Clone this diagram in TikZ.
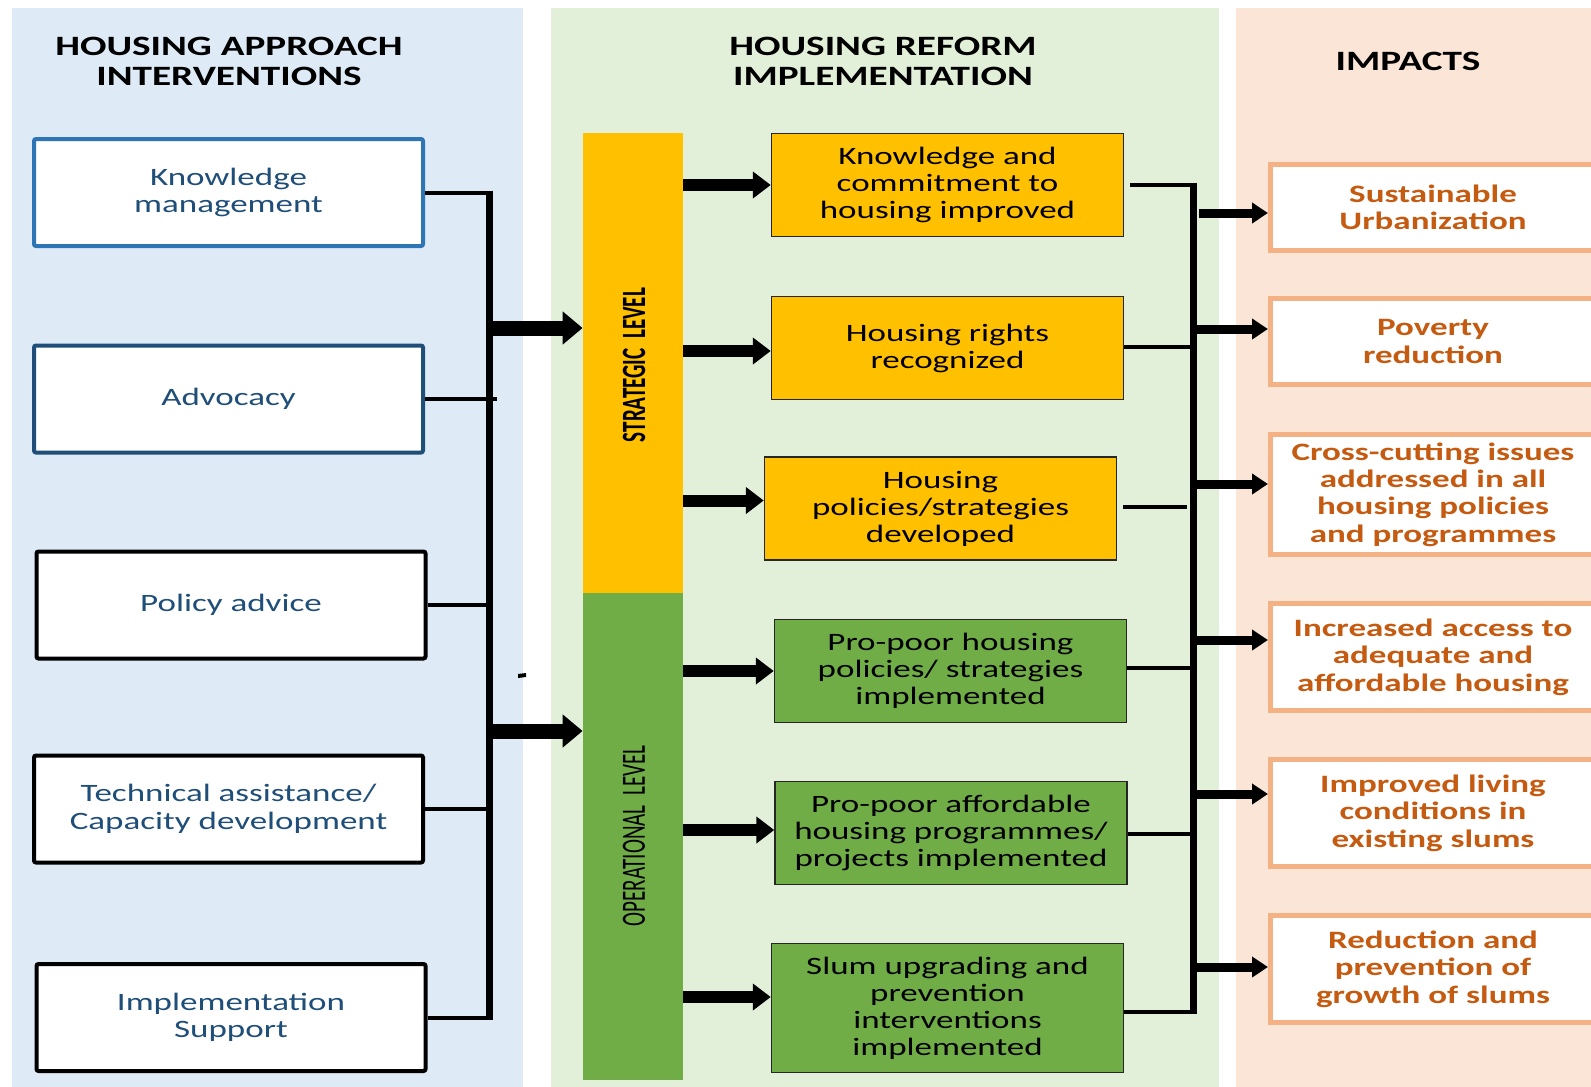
\documentclass[tikz,border=0pt]{standalone}
\usepackage{fontspec}
\setmainfont{Carlito}[FakeStretch=1.4]
\newfontfamily\barfont{Carlito}[FakeStretch=0.62]
\usetikzlibrary{arrows.meta}

\definecolor{panelblue}{HTML}{DEEBF7}
\definecolor{panelgreen}{HTML}{E2F0D9}
\definecolor{panelpeach}{HTML}{FBE5D6}
\definecolor{stratyellow}{HTML}{FFC000}
\definecolor{opgreen}{HTML}{70AD47}
\definecolor{navytext}{HTML}{1F4E79}
\definecolor{midblue}{HTML}{2E75B6}
\definecolor{rust}{HTML}{C55A11}
\definecolor{peachline}{HTML}{F4B183}

\tikzset{
  coltitle/.style={font=\bfseries\fontsize{14}{15}\selectfont, align=center},
  intervention/.style={draw=black, line width=2pt, fill=white, rounded corners=1pt,
    minimum width=194.5pt, minimum height=53.5pt, text=navytext, align=center,
    font=\fontsize{12.5}{13.7}\selectfont},
  result/.style={draw=black!85, line width=0.75pt, minimum width=176pt,
    minimum height=51.5pt, align=center, font=\fontsize{12.5}{13.5}\selectfont},
  impact/.style={draw=peachline, line width=2.5pt, fill=white, text=rust,
    minimum width=162.5pt, align=center, font=\bfseries\fontsize{12.5}{13.7}\selectfont},
  levelbar/.style={minimum width=50pt, inner sep=0pt},
  levellabel/.style={rotate=90, font=\barfont\fontsize{17}{20}\selectfont},
  bus/.style={line width=3.5pt},
  link/.style={line width=2pt},
  levelarrow/.style={line width=7.5pt, -{Triangle[length=10pt,width=16pt]}},
  outarrow/.style={line width=6pt, -{Triangle[length=9pt,width=13pt]}},
  impactarrow/.style={line width=4.5pt, -{Triangle[length=8pt,width=10pt]}},
}

\begin{document}
\begin{tikzpicture}[x=0.5pt,y=-0.5pt]
  % Page and the three column panels
  \fill[white] (0,0) rectangle (1591,1087);
  \useasboundingbox (0,0) rectangle (1591,1087);
  \fill[panelblue] (12,8) rectangle (523,1087);
  \fill[panelgreen] (551,8) rectangle (1219,1087);
  \fill[panelpeach] (1236,8) rectangle (1591,1087);

  % Column titles
  \node[coltitle] (t1) at (229,61) {HOUSING APPROACH\\INTERVENTIONS};
  \node[coltitle] (t2) at (883,61) {HOUSING REFORM\\IMPLEMENTATION};
  \node[coltitle] (t3) at (1408,61) {IMPACTS};

  % Interventions (left column)
  \node[intervention, draw=midblue] (km) at (228.5,192.5) {Knowledge\\management};
  \node[intervention, draw=navytext] (adv) at (228.5,399) {Advocacy};
  \node[intervention] (pol) at (231,605) {Policy advice};
  \node[intervention] (tech) at (228.5,809) {Technical assistance/\\Capacity development};
  \node[intervention] (impl) at (231,1017.5) {Implementation\\Support};

  % Strategic and operational bars
  \node[levelbar, fill=stratyellow, minimum height=230pt] (strat) at (633,363) {};
  \node[levelbar, fill=opgreen, minimum height=243.5pt] (oper) at (633,836.5) {};
  \node[levellabel, font=\barfont\bfseries\fontsize{17}{20}\selectfont] (stratlbl) at (634,365) {STRATEGIC\ \ LEVEL};
  \node[levellabel] (operlbl) at (634,836) {OPERATIONAL\ \ LEVEL};

  % Results of the reform
  \node[result, fill=stratyellow] (knowc) at (947.5,185) {Knowledge and\\commitment to\\housing improved};
  \node[result, fill=stratyellow] (rights) at (947.5,348) {Housing rights\\recognized};
  \node[result, fill=stratyellow] (polic) at (940.5,508.5) {Housing\\policies/strategies\\developed};
  \node[result, fill=opgreen] (propol) at (950.5,671) {Pro-poor housing\\policies/ strategies\\implemented};
  \node[result, fill=opgreen] (proaff) at (951,833) {Pro-poor affordable\\housing programmes/\\projects implemented};
  \node[result, fill=opgreen, minimum height=64.5pt] (slum) at (947.5,1008) {Slum upgrading and\\prevention\\interventions\\implemented};

  % Impacts (right column)
  \node[impact, minimum height=43pt] (imp1) at (1433,207.5) {Sustainable\\Urbanization};
  \node[impact, minimum height=43pt] (imp2) at (1433,341.5) {Poverty\\reduction};
  \node[impact, minimum height=60pt] (imp3) at (1433,494.5) {Cross-cutting issues\\addressed in all\\housing policies\\and programmes};
  \node[impact, minimum height=53.5pt] (imp4) at (1433,657) {Increased access to\\adequate and\\affordable housing};
  \node[impact, minimum height=53.5pt] (imp5) at (1433,813) {Improved living\\conditions in\\existing slums};
  \node[impact, minimum height=53.5pt] (imp6) at (1433,969) {Reduction and\\prevention of\\growth of slums};

  % Left collector and the two level arrows
  \coordinate (lbus) at (489,0);
  \draw[bus] ([yshift=1pt]km.east -| lbus) -- ([yshift=-1pt]impl.east -| lbus);
  \foreach \n/\ext in {km/1.75pt, adv/4pt, pol/0pt, tech/0pt, impl/1.75pt}
    \draw[link] (\n.east) -- ([xshift=\ext]\n.east -| lbus);
  \coordinate (stratin) at (489,328);
  \coordinate (operin) at (489,731);
  \draw[levelarrow] (stratin) -- (stratin -| strat.west);
  \draw[levelarrow] (operin) -- (operin -| oper.west);

  % Bars to results
  \foreach \b/\r/\dy in {strat/knowc/0pt, strat/rights/-1.5pt, strat/polic/4pt,
                         oper/propol/0pt, oper/proaff/1.5pt, oper/slum/5.5pt}
    \draw[outarrow] ([yshift=\dy]\r.west -| \b.east) -- ([yshift=\dy]\r.west);

  % Right collector
  \coordinate (rbus) at (1193,0);
  \draw[bus] ([yshift=1pt]knowc.east -| rbus) -- ([yshift=-2pt]slum.east -| rbus);
  \draw[link] ([xshift=3pt]knowc.east) -- ([xshift=1.75pt]knowc.east -| rbus);
  \draw[link] ([xshift=3pt,yshift=1pt]polic.east) -- ([xshift=-3pt,yshift=1pt]polic.east -| rbus);
  \foreach \r/\dy in {rights/0.5pt, propol/1.5pt, proaff/-0.5pt, slum/-2pt}
    \draw[link] ([yshift=\dy]\r.east) -- ([yshift=\dy,xshift=1.75pt]\r.east -| rbus);

  % Collector to impacts
  \draw[impactarrow] ([xshift=3pt,yshift=-2.75pt]imp1.west -| rbus) -- ([yshift=-2.75pt]imp1.west);
  \foreach \i/\dy in {imp2/6.25pt, imp3/5.25pt, imp4/8.5pt, imp5/9.5pt, imp6/1pt}
    \draw[impactarrow] ([yshift=\dy]\i.west -| rbus) -- ([yshift=\dy]\i.west);

  % Small stray tick
  \fill (518,674) -- (526,673) -- (526,677) -- (518,678) -- cycle;
\end{tikzpicture}
\end{document}
